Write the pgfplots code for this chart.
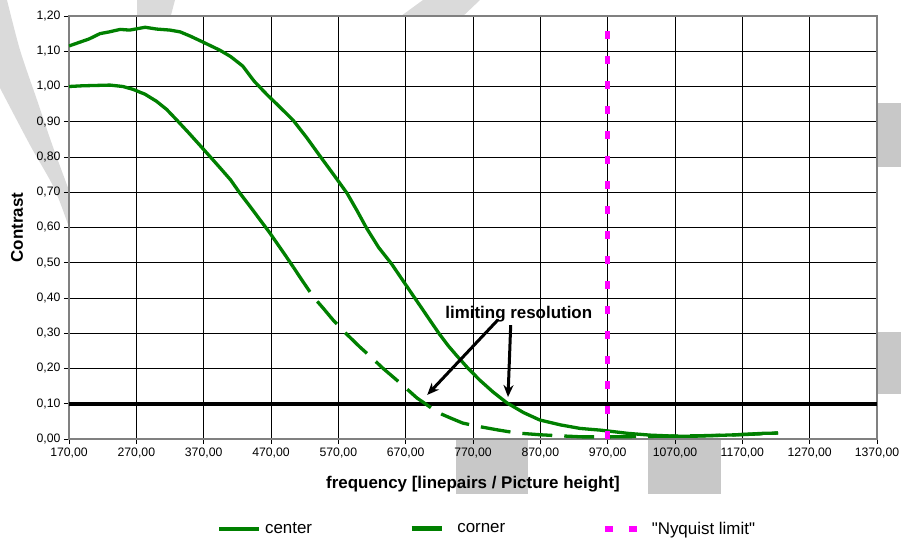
\documentclass[border=0pt]{standalone}
\usepackage{fontspec}
\setmainfont{Liberation Sans}[Ligatures=TeXOff]
\usepackage{pgfplots}
\usepackage{pgfplotstable}
\pgfplotsset{compat=1.18}
\usetikzlibrary{arrows.meta}
\definecolor{cgreen}{RGB}{0,128,0}
\definecolor{wm}{RGB}{218,218,218}
\definecolor{wmr}{RGB}{200,200,200}
\definecolor{nyq}{RGB}{255,0,255}

\pgfplotstableread{
x y
170 1.115
185 1.125
200 1.135
216 1.150
230 1.155
246 1.162
260 1.160
283 1.168
300 1.163
320 1.160
335 1.155
350 1.143
369 1.126
394 1.103
410 1.085
428 1.058
445 1.015
464 0.977
483 0.942
503 0.904
523 0.855
543 0.802
563 0.750
583 0.697
598 0.647
612 0.598
630 0.543
649 0.497
665 0.452
681 0.407
695 0.368
706 0.337
720 0.298
733 0.265
746 0.236
762 0.202
780 0.167
800 0.133
820 0.103
845 0.075
869 0.054
900 0.040
929 0.030
960 0.025
978 0.021
1000 0.016
1033 0.011
1070 0.008
1100 0.008
1132 0.010
1160 0.012
1181 0.014
1200 0.016
1223 0.017
}\center

\pgfplotstableread{
x y
170 1.000
190 1.002
210 1.003
231 1.004
250 1.000
265 0.992
283 0.978
300 0.958
315 0.935
330 0.905
348 0.868
365 0.832
380 0.800
394 0.770
410 0.735
424 0.697
440 0.657
454 0.621
467 0.588
479 0.555
491 0.522
503 0.488
}\cornerA

\pgfplotstableread{
x y
503 0.488
518 0.445
533 0.403
548 0.370
562 0.338
581 0.300
602 0.261
620 0.230
636 0.201
655 0.170
670 0.145
687 0.116
700 0.099
711 0.084
724 0.070
736 0.060
755 0.045
780 0.035
806 0.026
835 0.017
870 0.012
899 0.009
933 0.006
970 0.006
1014 0.007
1060 0.008
1100 0.009
1150 0.011
1190 0.014
1223 0.017
}\cornerB

\begin{document}
\begin{tikzpicture}
% background watermark shapes
\fill[wm] (-69bp,439bp) -- plot[smooth] coordinates {(-62bp,439bp) (-49bp,389bp) (-32bp,339bp) (-16bp,292bp) (4bp,238bp)}
  -- plot[smooth] coordinates {(4bp,200bp) (-14bp,249bp) (-39bp,294bp) (-69bp,351bp)} -- cycle;
\fill[wm] (68bp,439bp) -- (106bp,439bp) -- (101bp,420bp) -- (68bp,420bp) -- cycle;
\fill[wm] (354bp,439bp) -- (411bp,439bp) -- (391bp,420bp) -- (328bp,420bp) -- cycle;
\fill[wmr] (808bp,272bp) rectangle (832bp,336bp);
\fill[wmr] (808bp,45bp) rectangle (832bp,107bp);
\fill[wmr] (387bp,-1bp) rectangle (459bp,-55bp);
\fill[wmr] (579bp,-1bp) rectangle (652bp,-55bp);

\begin{axis}[
  at={(0bp,0bp)}, anchor=south west,
  scale only axis, width=808bp, height=423bp,
  xmin=170, xmax=1370, ymin=0, ymax=1.2,
  xtick={170,270,370,470,570,670,770,870,970,1070,1170,1270,1370},
  ytick={0,0.1,0.2,0.3,0.4,0.5,0.6,0.7,0.8,0.9,1.0,1.1,1.2},
  scaled ticks=false,
  /pgf/number format/fixed,
  /pgf/number format/fixed zerofill,
  /pgf/number format/precision=2,
  /pgf/number format/use comma,
  /pgf/number format/1000 sep={},
  /pgf/number format/assume math mode=true,
  grid=major,
  major grid style={black, line width=0.9bp},
  axis line style={gray, line width=1.5bp},
  axis background/.style={fill=white},
  tick align=outside, major tick length=5bp,
  tick style={black, line width=0.9bp},
  tick pos=left,
  ticklabel style={font=\fontsize{12.3}{14}\selectfont},
  xlabel={frequency [linepairs / Picture height]},
  ylabel={Contrast},
  label style={font=\fontsize{17}{20}\selectfont\bfseries},
  xlabel style={at={(axis description cs:0.5,-0.1064)}, anchor=center},
  ylabel style={at={(axis description cs:-0.0644,0.5)}, anchor=center},
  legend columns=3,
  legend cell align=left,
  legend style={at={(axis description cs:0.1830,-0.212)}, anchor=west,
    draw=none, fill=none, inner sep=0pt,
    font=\fontsize{17}{20}\selectfont,
    nodes={inner xsep=0pt, inner ysep=1bp},
    /tikz/every odd column/.append style={column sep=4bp},
    /tikz/every even column/.append style={column sep=97bp}},
]
\addplot[black, line width=3.5bp, forget plot] coordinates {(170,0.1) (1370,0.1)};
\addplot[cgreen, line width=3.3bp, line join=round,
  legend image code/.code={\draw[cgreen, line width=4bp] (0bp,0bp) -- (40bp,0bp);}]
  table {\center};
\addlegendentry{center}
\addplot[cgreen, line width=3.3bp, line join=round, forget plot] table {\cornerA};
\addplot[cgreen, line width=3.3bp, dash pattern=on 30bp off 12bp,
  legend image code/.code={\draw[cgreen, line width=5bp] (0bp,0bp) -- (30bp,0bp); \path (40bp,0bp);}]
  table {\cornerB};
\addlegendentry{corner}
\addplot[nyq, line width=5bp, dash pattern=on 8bp off 17bp,
  legend image code/.code={\draw[nyq, line width=6bp] (0bp,0bp) -- (8bp,0bp) (24bp,0bp) -- (32bp,0bp); \path (40bp,0bp);}]
  coordinates {(970,0) (970,1.2)};
\addlegendentry{"Nyquist limit"}

\node[font=\fontsize{17}{20}\selectfont\bfseries, inner sep=0pt] at (axis cs:838,0.355) {limiting resolution};
\draw[line width=3bp, -{Stealth[length=12bp, width=10bp]}] (axis cs:807,0.338) -- (axis cs:702,0.125);
\draw[line width=3bp, -{Stealth[length=12bp, width=10bp]}] (axis cs:826,0.323) -- (axis cs:822,0.119);
\end{axis}
\pgfresetboundingbox
\path[use as bounding box] (-69bp,-100bp) rectangle (832bp,439bp);
\end{tikzpicture}
\end{document}
